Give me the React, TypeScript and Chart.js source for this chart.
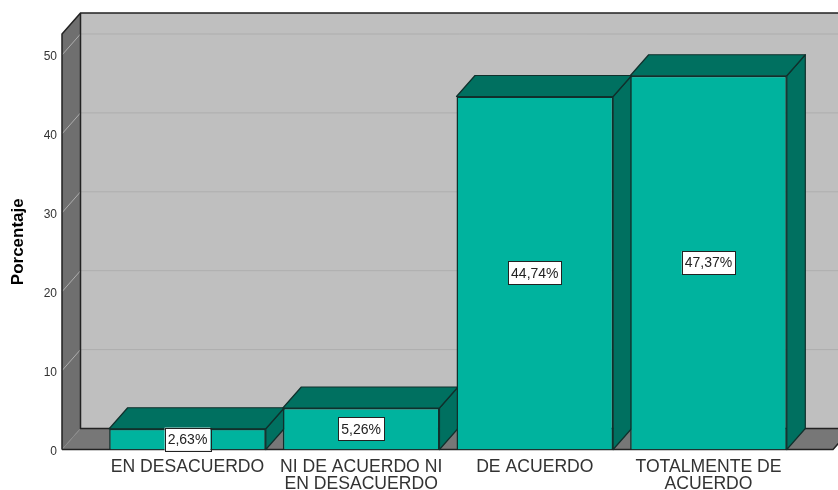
import React, { useEffect, useRef } from "react";
import { Chart, registerables } from "chart.js";

Chart.register(...registerables);

const categories = [
  ["EN DESACUERDO"],
  ["NI DE ACUERDO NI", "EN DESACUERDO"],
  ["DE ACUERDO"],
  ["TOTALMENTE DE", "ACUERDO"],
];
const positions = [0, 1, 2, 3];
const percentages = [2.63, 5.26, 44.74, 47.37];
const yTicks = [0, 10, 20, 30, 40, 50];

const DX = 18.5;
const DY = 21;
const FRONT = "#00B39E";
const DARK = "#007060";
const EDGE = "#10302c";
const FONT = "'Liberation Sans', Arial, sans-serif";

function poly(ctx: CanvasRenderingContext2D, pts: number[][], fill: string, stroke?: string, lw = 1.2) {
  ctx.beginPath();
  pts.forEach(([x, y], i) => (i ? ctx.lineTo(x, y) : ctx.moveTo(x, y)));
  ctx.closePath();
  ctx.fillStyle = fill;
  ctx.fill();
  if (stroke) {
    ctx.strokeStyle = stroke;
    ctx.lineWidth = lw;
    ctx.lineJoin = "round";
    ctx.stroke();
  }
}

const box3d = {
  id: "box3d",
  beforeDatasetsDraw(chart: any) {
    const { ctx, chartArea: a, scales } = chart;
    const y = scales.y;
    const { left: l, right: r, top: t, bottom: b } = a;
    ctx.save();
    poly(ctx, [[l + DX, t - DY], [r + DX, t - DY], [r + DX, b - DY], [l + DX, b - DY]], "#BFBFBF");
    poly(ctx, [[l, t], [l + DX, t - DY], [l + DX, b - DY], [l, b]], "#6F6F6F");
    poly(ctx, [[l, b], [l + DX, b - DY], [r + DX, b - DY], [r, b]], "#777777");

    yTicks.forEach((v) => {
      const py = y.getPixelForValue(v);
      ctx.beginPath();
      ctx.moveTo(l, py);
      ctx.lineTo(l + DX, py - DY);
      if (v > 0) ctx.lineTo(r + DX, py - DY);
      ctx.strokeStyle = v > 0 ? "#AEAEAE" : "#8A8A8A";
      ctx.lineWidth = 1;
      ctx.stroke();
    });

    ctx.strokeStyle = "#222";
    ctx.lineWidth = 1.5;
    ctx.beginPath();
    ctx.moveTo(l, b);
    ctx.lineTo(l, t);
    ctx.lineTo(l + DX, t - DY);
    ctx.lineTo(r + DX, t - DY);
    ctx.moveTo(l + DX, t - DY);
    ctx.lineTo(l + DX, b - DY);
    ctx.lineTo(r + DX, b - DY);
    ctx.lineTo(r, b);
    ctx.lineTo(l, b);
    ctx.stroke();

    const bars = chart.getDatasetMeta(0).data;
    bars.forEach((el: any) => {
      const x0 = el.x - el.width / 2;
      const x1 = el.x + el.width / 2;
      const top = el.y;
      const base = el.base;
      poly(ctx, [[x1, top], [x1 + DX, top - DY], [x1 + DX, base - DY], [x1, base]], DARK, EDGE);
      poly(ctx, [[x0, top], [x0 + DX, top - DY], [x1 + DX, top - DY], [x1, top]], DARK, EDGE);
    });
    ctx.restore();
  },
  afterDatasetsDraw(chart: any) {
    const { ctx } = chart;
    const bars = chart.getDatasetMeta(0).data;
    ctx.save();
    ctx.font = `14px ${FONT}`;
    ctx.textAlign = "center";
    ctx.textBaseline = "middle";
    bars.forEach((el: any, i: number) => {
      const txt = percentages[i].toFixed(2).replace(".", ",") + "%";
      const cy = (el.y + el.base) / 2;
      const w = ctx.measureText(txt).width + 6;
      const h = 23;
      ctx.fillStyle = "#fff";
      ctx.fillRect(el.x - w / 2, cy - h / 2, w, h);
      ctx.strokeStyle = "#222";
      ctx.lineWidth = 1;
      ctx.strokeRect(Math.round(el.x - w / 2) + 0.5, Math.round(cy - h / 2) + 0.5, Math.round(w), h);
      ctx.fillStyle = "#222";
      ctx.fillText(txt, el.x, cy + 1);
    });
    ctx.restore();
  },
};

export default function App() {
  const ref = useRef<HTMLCanvasElement>(null);
  useEffect(() => {
    const chart = new Chart(ref.current!, {
      type: "bar",
      data: {
        datasets: [
          {
            data: positions.map((x, i) => ({ x, y: percentages[i] })),
            backgroundColor: FRONT,
            borderColor: EDGE,
            borderWidth: 1.5,
            barPercentage: 1,
            categoryPercentage: 0.902,
          },
        ],
      },
      plugins: [box3d],
      options: {
        animation: false,
        responsive: false,
        layout: { padding: { top: 34, right: 5, left: 0, bottom: 0 } },
        plugins: { legend: { display: false }, tooltip: { enabled: false }, title: { display: false } },
        scales: {
          x: {
            type: "linear",
            offset: false,
            bounds: "data",
            min: -0.7226,
            max: 3.717,
            grid: { display: false, drawTicks: false, offset: false },
            border: { display: false },
            afterBuildTicks: (s: any) => {
              s.ticks = positions.map((value) => ({ value }));
            },
            afterFit: (s: any) => {
              s.height = 40.5;
            },
            ticks: {
              autoSkip: false,
              maxRotation: 0,
              minRotation: 0,
              padding: 9,
              color: "#333",
              font: { family: FONT, size: 17.6, lineHeight: 0.96 },
              callback: (v: any) => categories[v] ?? "",
            },
          },
          y: {
            min: 0,
            max: 52.66,
            grid: { display: false, drawTicks: false },
            border: { display: false },
            afterBuildTicks: (s: any) => {
              s.ticks = yTicks.map((value) => ({ value }));
            },
            afterFit: (s: any) => {
              s.width = 62;
            },
            ticks: { padding: 5, color: "#333", labelOffset: 2, font: { family: FONT, size: 12 } },
            title: {
              display: true,
              text: "Porcentaje",
              color: "#000",
              font: { family: FONT, size: 17, weight: "bold" },
              padding: { top: 8, bottom: 0 },
            },
          },
        },
      },
    } as any);
    return () => chart.destroy();
  }, []);
  return (
    <div style={{ position: "fixed", left: 0, top: 0, width: 838, height: 490, background: "#fff", overflow: "hidden" }}>
      <canvas ref={ref} width={838} height={490} style={{ display: "block" }} />
    </div>
  );
}
